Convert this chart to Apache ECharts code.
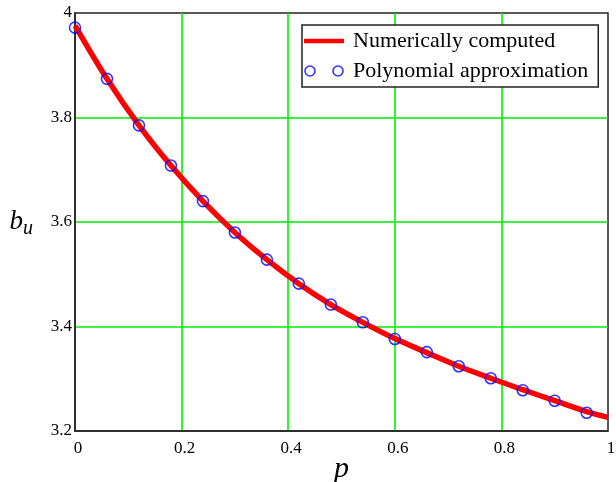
<!DOCTYPE html>
<html><head><meta charset="utf-8">
<script src="https://cdn.jsdelivr.net/npm/echarts@6/dist/echarts.min.js"></script>
<style>html,body{margin:0;padding:0;background:#fff}#c{width:616px;height:482px}</style>
</head><body><div id="c"></div>
<script>
// Tick values
const xTicks = [0, 0.2, 0.4, 0.6, 0.8, 1];
const yTicks = [3.2, 3.4, 3.6, 3.8, 4];

// Numerically computed curve
const pLine = [0, 0.06, 0.12, 0.18, 0.24, 0.30, 0.36, 0.42, 0.48, 0.54, 0.60, 0.66, 0.72, 0.78, 0.84, 0.90, 0.96, 1.0];
const bLine = [3.976, 3.874, 3.785, 3.708, 3.640, 3.580, 3.528, 3.482, 3.442, 3.408, 3.377, 3.350, 3.324, 3.301, 3.279, 3.258, 3.237, 3.226];

// Polynomial approximation points
const pPoly = [0, 0.06, 0.12, 0.18, 0.24, 0.30, 0.36, 0.42, 0.48, 0.54, 0.60, 0.66, 0.72, 0.78, 0.84, 0.90, 0.96];
const bPoly = [3.972, 3.874, 3.785, 3.708, 3.640, 3.580, 3.528, 3.482, 3.442, 3.408, 3.376, 3.351, 3.324, 3.301, 3.278, 3.258, 3.235];

const seriesNames = ['Numerically computed', 'Polynomial approximation'];

const serif = 'Liberation Serif, Times New Roman, serif';
const chart = echarts.init(document.getElementById('c'), null, {renderer: 'canvas'});
chart.setOption({
  animation: false,
  backgroundColor: '#fff',
  grid: {left: 75, right: 8, top: 13, bottom: 51, outerBoundsMode: 'none', containLabel: false,
         show: true, borderColor: '#222', borderWidth: 1.5, backgroundColor: '#fff'},
  legend: {
    orient: 'vertical', left: 302, top: 25,
    backgroundColor: '#fff', borderColor: '#222', borderWidth: 1.5,
    padding: [5, 10, 5, 2], itemGap: 8, itemWidth: 40, itemHeight: 10,
    textStyle: {fontFamily: serif, fontSize: 22, color: '#000', lineHeight: 22, padding: [0, 0, 0, 4]},
    data: [
      {name: seriesNames[0], icon: 'path://M0,0L40,0L40,4.5L0,4.5Z'},
      {name: seriesNames[1], icon: 'path://M0,5a5,5 0 1,0 10,0a5,5 0 1,0 -10,0M28,5a5,5 0 1,0 10,0a5,5 0 1,0 -10,0',
       itemStyle: {color: 'rgba(0,0,0,0)', borderColor: '#0000ff', borderWidth: 1.6}}
    ]
  },
  xAxis: {
    type: 'value', min: xTicks[0], max: xTicks[xTicks.length - 1], interval: xTicks[1] - xTicks[0],
    name: 'p', nameLocation: 'middle', nameGap: 23, nameMoveOverlap: false,
    nameTextStyle: {fontFamily: serif, fontStyle: 'italic', fontSize: 30, color: '#000'},
    axisLine: {show: true, lineStyle: {color: '#222', width: 1.5}},
    axisTick: {show: false},
    axisLabel: {fontFamily: serif, fontSize: 17, color: '#000', margin: 9, padding: [0, 0, 0, 6]},
    splitLine: {show: true, showMinLine: false, showMaxLine: false, lineStyle: {color: '#00ee00', width: 1.6}}
  },
  yAxis: {
    type: 'value', min: yTicks[0], max: yTicks[yTicks.length - 1], interval: 0.2,
    name: '{b|b}{u|u}', nameLocation: 'middle', nameGap: 42, nameRotate: 0, nameMoveOverlap: false,
    nameTextStyle: {rich: {
      b: {fontFamily: serif, fontStyle: 'italic', fontSize: 27, color: '#000'},
      u: {fontFamily: serif, fontStyle: 'italic', fontSize: 20, color: '#000', padding: [14, 0, 0, 0]}
    }},
    axisLine: {show: true, lineStyle: {color: '#222', width: 1.5}},
    axisTick: {show: false},
    axisLabel: {fontFamily: serif, fontSize: 17, color: '#000', margin: 3, padding: [8, 0, 0, 0]},
    splitLine: {show: true, showMinLine: false, showMaxLine: false, lineStyle: {color: '#00ee00', width: 1.6}}
  },
  series: [
    {
      name: seriesNames[0], type: 'line', data: pLine.map((p, i) => [p, bLine[i]]),
      smooth: 0.3, showSymbol: false, symbol: 'none', clip: false,
      itemStyle: {color: '#ff0000'}, lineStyle: {color: '#ff0000', width: 5.5}, z: 2
    },
    {
      name: seriesNames[1], type: 'scatter', data: pPoly.map((p, i) => [p, bPoly[i]]),
      symbol: 'circle', symbolSize: 11, clip: false,
      itemStyle: {color: 'rgba(0,0,0,0)', borderColor: '#0000ff', borderWidth: 1.6}, z: 3
    }
  ]
});
</script>
</body></html>
